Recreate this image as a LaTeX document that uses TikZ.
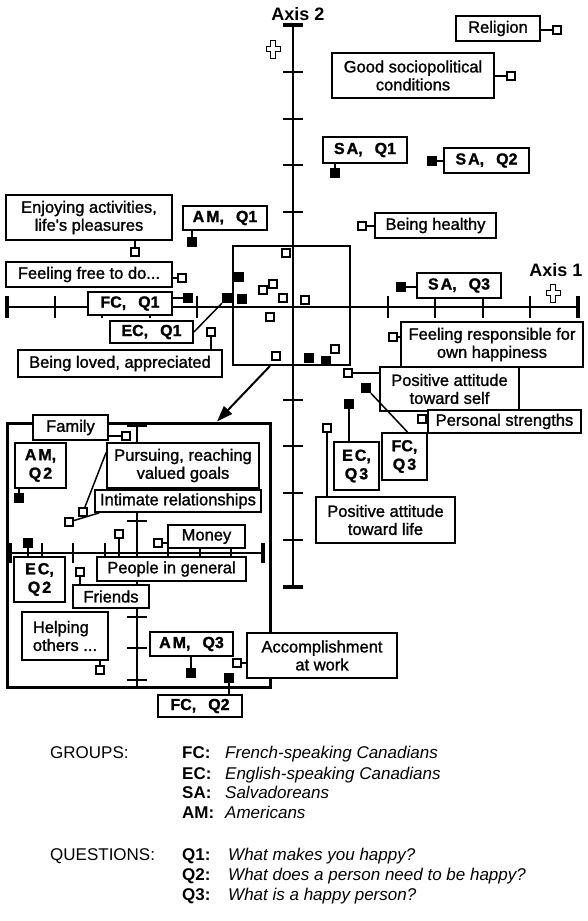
\documentclass[tikz,border=0pt]{standalone}
\usepackage{fontspec}
\setmainfont{Liberation Sans}
\newfontfamily\boxfont[FakeBold=1.3]{Liberation Sans}
\usetikzlibrary{arrows.meta}
\newcommand{\gsp}{\kern2pt}
\begin{document}
\begin{tikzpicture}[x=1pt,y=-1pt,
  box/.style={draw, line width=1.8pt, fill=white, inner sep=0pt, align=center, font=\fontsize{16.5}{18}\boxfont},
  gbox/.style={box, font=\fontsize{16}{18.5}\boxfont\bfseries},
  osq/.style={draw, line width=1.6pt, fill=white, minimum size=8.5pt, inner sep=0pt},
  fsq/.style={draw, line width=0.8pt, fill=black, minimum size=9.5pt, inner sep=0pt},
  con/.style={line width=1.5pt},
  ax/.style={line width=2pt},
  endcap/.style={line width=4pt},
  lg/.style={anchor=base west, inner sep=0pt, font=\fontsize{17}{18}\selectfont},
  lgb/.style={lg, font=\fontsize{17}{18}\selectfont\bfseries},
  lgi/.style={lg, font=\fontsize{17}{18}\selectfont\itshape},
  crossmark/.pic={\draw[line width=0.7pt] (-2.5,-9) -- (2.5,-9) -- (2.5,-2.5) -- (7,-2.5) -- (7,2.5) -- (2.5,2.5) -- (2.5,9) -- (-2.5,9) -- (-2.5,2.5) -- (-7,2.5) -- (-7,-2.5) -- (-2.5,-2.5) -- cycle;}
]
\useasboundingbox (0,0) rectangle (587,921);

% ---------- main axes ----------
\coordinate (a2top) at (293,25);
\coordinate (a2bot) at (293,587);
\coordinate (a1lft) at (7,307);
\coordinate (a1rgt) at (578,307);
\draw[ax] (a2top) -- (a2bot);
\draw[ax] (a1lft) -- (a1rgt);
\foreach \i in {1,2,3,4,8,9,10,11}
  \draw[ax] (283,{25+\i*46.83}) -- (303,{25+\i*46.83});
\foreach \i in {1,2,3,4,8,9,10,11}
  \draw[ax] ({7+\i*47.58},296) -- ({7+\i*47.58},318);
\draw[endcap] (283,25) -- (303,25);
\draw[endcap] (283,587) -- (303,587);
\draw[endcap] (7,296) -- (7,318);
\draw[endcap] (578,296) -- (578,318);
\node[font=\fontsize{18}{20}\selectfont\bfseries] (ax2) at (298,14) {Axis 2};
\node[font=\fontsize{18}{20}\selectfont\bfseries] (ax1) at (556,270) {Axis 1};
\pic at (273,49) {crossmark};
\pic at (553,293) {crossmark};

% ---------- central region ----------
\node[draw, line width=1.3pt, minimum width=117pt, minimum height=119pt, inner sep=0pt] (region) at (291.5,305.5) {};
\foreach \p in {(286,253),(263,290),(273,284),(283,298),(305,300),(270,317),(276,356),(335,349)}
  \node[osq] at \p {};
\foreach \p in {(239,277),(242,299),(309,358),(326,361)}
  \node[fsq] at \p {};

% ---------- inset ----------
\node[draw, line width=3pt, minimum width=263pt, minimum height=264pt, inner sep=0pt] (inset) at (138.5,555) {};
\draw[ax] (137,426) -- (137,687);
\draw[ax] (10,553) -- (263,553);
\foreach \i in {0,1,2,3,5,6,7,8}
  \draw[ax] (127,{426+\i*31.75}) -- (147,{426+\i*31.75});
\foreach \i in {1,2,3,5,6,7}
  \draw[ax] ({10+\i*31.6},543) -- ({10+\i*31.6},563);
\draw[endcap] (10,543) -- (10,563);
\draw[endcap] (263,543) -- (263,563);

\coordinate (arrstart) at (270,366);
\draw[line width=2pt, -{Triangle[length=16pt,width=11pt]}] (arrstart) -- (inset.north -| 217,0);

% ---------- squares ----------
\node[osq] (sqrel) at (557,30) {};
\node[osq] (sqsoc) at (511,76) {};
\node[fsq] (sqsaq1) at (335,173) {};
\node[fsq] (sqsaq2) at (432,161) {};
\node[osq] (sqenj) at (135,252) {};
\node[fsq] (sqamq1) at (192,242) {};
\node[osq] (sqfree) at (182,278) {};
\node[fsq] (sqfcq1) at (188,298) {};
\node[fsq] (sqecq1) at (227,298) {};
\node[osq] (sqlov) at (211,332) {};
\node[osq] (sqhea) at (362,226) {};
\node[fsq] (sqsaq3) at (401,287) {};
\node[osq] (sqres) at (393,337) {};
\node[osq] (sqpself) at (348,373) {};
\node[fsq] (sqfcq3) at (366,388) {};
\node[osq] (sqstr) at (422,419) {};
\node[fsq] (sqecq3) at (349,404) {};
\node[osq] (sqplife) at (327,428) {};
\node[osq] (sqfam) at (126,436) {};
\node[fsq] (sqamq2) at (19,498) {};
\node[osq] (sqpur) at (83,512) {};
\node[osq] (sqint) at (69,522) {};
\node[osq] (sqpeo) at (119,534) {};
\node[osq] (sqmon) at (158,543) {};
\node[fsq] (sqecq2) at (28,543) {};
\node[osq] (sqfri) at (80,572) {};
\node[osq] (sqhel) at (100,670) {};
\node[fsq] (sqamq3) at (191,673) {};
\node[osq] (sqacc) at (237,663) {};
\node[fsq] (sqfcq2) at (229,678) {};

% ---------- boxes ----------
\node[box, minimum width=84pt, minimum height=25pt] (religion) at (498,28.5) {Religion};
\node[box, minimum width=162pt, minimum height=45pt] (socio) at (413,75.5) {Good sociopolitical\\conditions};
\node[gbox, minimum width=84pt, minimum height=26pt] (saq1) at (365,150) {S\gsp A,\hspace{12pt}Q1};
\node[gbox, minimum width=85pt, minimum height=25pt] (saq2) at (486.5,160.5) {S\gsp A,\hspace{12pt}Q2};
\node[box, minimum width=166pt, minimum height=45pt] (enjoy) at (89,217.5) {Enjoying activities,\\life's pleasures};
\node[gbox, minimum width=84pt, minimum height=24pt] (amq1) at (225,218) {A\gsp M,\hspace{12pt}Q1};
\node[box, minimum width=166pt, minimum height=25pt] (free) at (89,274.5) {Feeling free to do...};
\node[gbox, minimum width=84pt, minimum height=23pt] (fcq1) at (130,303.5) {FC,\hspace{12pt}Q1};
\node[gbox, minimum width=83pt, minimum height=22pt] (ecq1) at (151.5,332) {EC,\hspace{12pt}Q1};
\node[box, minimum width=204pt, minimum height=27pt] (loved) at (120,363.5) {Being loved, appreciated};
\node[box, minimum width=121pt, minimum height=25pt] (healthy) at (435.5,225.5) {Being healthy};
\node[gbox, minimum width=84pt, minimum height=25pt] (saq3) at (459,285.5) {S\gsp A,\hspace{12pt}Q3};
\node[box, minimum width=182pt, minimum height=45pt] (respons) at (492,344.5) {Feeling responsible for\\own happiness};
\node[box, minimum width=139pt, minimum height=44pt] (posself) at (449.5,389) {Positive attitude\\toward self};
\node[box, minimum width=153pt, minimum height=23pt] (strengths) at (504.5,421.5) {Personal strengths};
\node[gbox, minimum width=45pt, minimum height=48pt] (ecq3) at (356.5,466) {E\gsp C,\\Q\gsp 3};
\node[gbox, minimum width=45pt, minimum height=47pt] (fcq3) at (404.5,456.5) {FC,\\Q\gsp 3};
\node[box, minimum width=139pt, minimum height=46pt] (poslife) at (385.5,520) {Positive attitude\\toward life};

\node[box, minimum width=75pt, minimum height=25pt] (family) at (70.5,427.5) {Family};
\node[gbox, minimum width=51pt, minimum height=45pt] (amq2) at (40.5,465.5) {A\gsp M,\\Q\gsp 2};
\node[box, minimum width=152pt, minimum height=45pt] (pursuing) at (183,465.5) {Pursuing, reaching\\valued goals};
\node[box, minimum width=166pt, minimum height=22pt] (intimate) at (178,501) {Intimate relationships};
\node[box, minimum width=77pt, minimum height=23pt] (money) at (206.5,536.5) {Money};
\node[box, minimum width=149pt, minimum height=24pt] (people) at (171.5,569) {People in general};
\node[gbox, minimum width=51pt, minimum height=45pt] (ecq2) at (39.5,579.5) {E\gsp C,\\Q\gsp 2};
\node[box, minimum width=76pt, minimum height=23pt] (friends) at (111,596.5) {Friends};
\node[box, minimum width=86pt, minimum height=48pt, align=left] (helping) at (65,636) {Helping\\others ...};
\node[gbox, minimum width=83pt, minimum height=24pt] (amq3) at (191.5,644) {A\gsp M,\hspace{12pt}Q3};
\node[box, minimum width=150pt, minimum height=45pt] (accomp) at (322,655.5) {Accomplishment\\at work};
\node[gbox, minimum width=84pt, minimum height=22pt] (fcq2) at (200,706) {FC,\hspace{12pt}Q2};

% ---------- connectors ----------
\draw[con] (religion.east |- sqrel) -- (sqrel);
\draw[con] (socio.east |- sqsoc) -- (sqsoc);
\draw[con] (saq1.south -| sqsaq1) -- (sqsaq1);
\draw[con] (sqsaq2) -- (saq2.west |- sqsaq2);
\draw[con] (enjoy.south -| sqenj) -- (sqenj);
\draw[con] (amq1.south -| sqamq1) -- (sqamq1);
\draw[con] (free.east |- sqfree) -- (sqfree);
\draw[con] (fcq1.east |- sqfcq1) -- (sqfcq1);
\draw[con] (ecq1.east) -- (sqecq1);
\draw[con] (loved.north -| sqlov) -- (sqlov);
\draw[con] (sqhea) -- (healthy.west |- sqhea);
\draw[con] (sqsaq3) -- (saq3.west |- sqsaq3);
\draw[con] (sqres) -- (respons.west |- sqres);
\draw[con] (sqpself) -- (posself.west |- sqpself);
\draw[con] (sqstr) -- (strengths.west |- sqstr);
\draw[con] (ecq3.north -| sqecq3) -- (sqecq3);
\draw[con] (sqfcq3) -- ([xshift=3pt]fcq3.north);
\draw[con] (poslife.north -| sqplife) -- (sqplife);
\draw[con] (family.east |- sqfam) -- (sqfam);
\draw[con] (amq2.south -| sqamq2) -- (sqamq2);
\draw[con] (sqpur) -- ([yshift=13pt]pursuing.west);
\draw[con] (sqint) -- ([xshift=5pt]intimate.south west);
\draw[con] (sqmon) -- (money.west |- sqmon);
\draw[con] (sqpeo) -- (people.north -| sqpeo);
\draw[con] (sqecq2) -- (ecq2.north -| sqecq2);
\draw[con] (sqfri) -- (friends.north -| sqfri);
\draw[con] (helping.south -| sqhel) -- (sqhel);
\draw[con] (amq3.south -| sqamq3) -- (sqamq3);
\draw[con] (sqacc) -- (accomp.west |- sqacc);
\draw[con] (sqfcq2) -- (fcq2.north -| sqfcq2);

% ---------- legend ----------
\node[lg] (lgroups) at (50,758) {GROUPS:};
\node[lgb] (lfc) at (182,758) {FC:};
\node[lgi] (lfct) at (225,758) {French-speaking Canadians};
\node[lgb] (lec) at (182,779) {EC:};
\node[lgi] (lect) at (225,779) {English-speaking Canadians};
\node[lgb] (lsa) at (182,798) {SA:};
\node[lgi] (lsat) at (225,798) {Salvadoreans};
\node[lgb] (lam) at (182,818) {AM:};
\node[lgi] (lamt) at (225,818) {Americans};
\node[lg] (lquest) at (50,860) {QUESTIONS:};
\node[lgb] (lq1) at (182,860) {Q1:};
\node[lgi] (lq1t) at (228,860) {What makes you happy?};
\node[lgb] (lq2) at (182,880) {Q2:};
\node[lgi] (lq2t) at (228,880) {What does a person need to be happy?};
\node[lgb] (lq3) at (182,900) {Q3:};
\node[lgi] (lq3t) at (228,900) {What is a happy person?};
\end{tikzpicture}
\end{document}
